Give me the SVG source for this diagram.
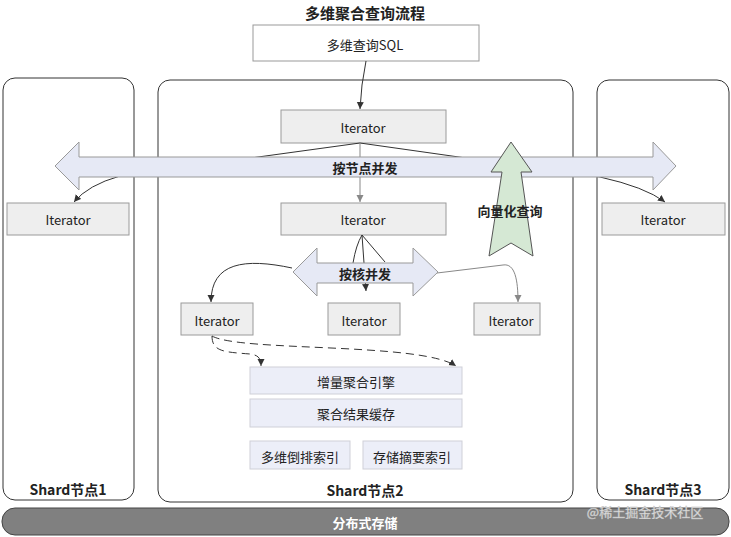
<svg xmlns="http://www.w3.org/2000/svg" width="731" height="537" viewBox="0 0 731 537">
<style>
text{font-family:"Noto Sans CJK SC","Noto Sans",sans-serif;text-anchor:middle;dominant-baseline:central;fill:#222}
.shard{fill:#fff;stroke:#333;stroke-width:1}
.it{fill:#eeeeee;stroke:#9a9a9a;stroke-width:1}
.t13{font-size:13px}
.b{font-weight:bold}
.lav{fill:#eceef8;stroke:#cfd0d8;stroke-width:1}
.c{fill:none;stroke:#333;stroke-width:1}
.cg{fill:none;stroke:#888;stroke-width:1}
.d{fill:none;stroke:#333;stroke-width:1;stroke-dasharray:8 5}
</style>
<defs>
<marker id="ah" markerWidth="8" markerHeight="8" refX="7" refY="4" orient="auto" markerUnits="userSpaceOnUse"><path d="M0,0.5 L7,4 L0,7.5 Z" fill="#333"/></marker>
<marker id="ahg" markerWidth="8" markerHeight="8" refX="7" refY="4" orient="auto" markerUnits="userSpaceOnUse"><path d="M0,0.5 L7,4 L0,7.5 Z" fill="#888"/></marker>
</defs>
<rect width="731" height="537" fill="#fff"/>
<g id="title"><text x="365" y="12" class="b" style="font-size:15px">多维聚合查询流程</text></g>
<g id="shard1"><rect class="shard" x="3" y="78" width="131" height="422" rx="12"/><text x="68" y="489" class="b" style="font-size:14px">Shard节点1</text></g>
<g id="shard2"><rect class="shard" x="158" y="80" width="415" height="422" rx="12"/><text x="365" y="490" class="b" style="font-size:14px">Shard节点2</text></g>
<g id="shard3"><rect class="shard" x="597" y="80" width="132" height="420" rx="12"/><text x="663" y="489" class="b" style="font-size:14px">Shard节点3</text></g>
<g id="storage"><rect x="2" y="508" width="727" height="27" rx="13" fill="#808080" stroke="#444"/><text x="365" y="522" class="b t13" style="fill:#fff">分布式存储</text></g>
<g id="sql"><rect x="253" y="25" width="226" height="36" fill="#fff" stroke="#999"/><text x="365" y="44" class="t13">多维查询SQL</text></g>
<g id="it-top"><rect class="it" x="281" y="110" width="165" height="33"/><text x="363" y="127" class="t13">Iterator</text></g>
<g id="it-s1"><rect class="it" x="7" y="203" width="122" height="32"/><text x="68" y="219" class="t13">Iterator</text></g>
<g id="it-mid"><rect class="it" x="281" y="203" width="165" height="32"/><text x="363" y="219" class="t13">Iterator</text></g>
<g id="it-s3"><rect class="it" x="602" y="203" width="123" height="32"/><text x="663" y="219" class="t13">Iterator</text></g>
<g id="it-l"><rect class="it" x="181" y="303" width="72" height="32"/><text x="217" y="320" class="t13">Iterator</text></g>
<g id="it-m"><rect class="it" x="328" y="303" width="72" height="32"/><text x="364" y="320" class="t13">Iterator</text></g>
<g id="it-r"><rect class="it" x="474" y="303" width="66" height="32"/><text x="511" y="320" class="t13">Iterator</text></g>
<g id="engine"><rect class="lav" x="250" y="367" width="212" height="27"/><text x="356" y="381" class="t13">增量聚合引擎</text></g>
<g id="cache"><rect class="lav" x="250" y="399" width="212" height="28"/><text x="356" y="413" class="t13">聚合结果缓存</text></g>
<g id="idx1"><rect class="lav" x="250" y="441" width="100" height="28"/><text x="300" y="456" class="t13">多维倒排索引</text></g>
<g id="idx2"><rect class="lav" x="363" y="441" width="99" height="28"/><text x="412" y="456" class="t13">存储摘要索引</text></g>
<g id="connectors">
<path class="c" d="M366,61 Q361,85 360,109" marker-end="url(#ah)"/>
<path class="c" d="M360,143 L120,176 Q88,185 74,202" marker-end="url(#ah)"/>
<path class="c" d="M360,143 L600,177 Q645,187 665,202" marker-end="url(#ah)"/>
<path class="cg" d="M360,143 L360,202" marker-end="url(#ahg)"/>
<path class="c" d="M362,235 Q356,245 353,263 M362,235 L385,262"/>
<path class="c" d="M292,268 C245,258 211,262 211,302" marker-end="url(#ah)"/>
<path class="c" d="M362,235 L366,291" marker-end="url(#ah)"/>
<path class="cg" d="M437,273 L503,265 C515,263 518,280 518,302" marker-end="url(#ahg)"/>
<path class="d" d="M212,336 C212,352 225,352 250,354 C258,355 261,358 261,366" marker-end="url(#ah)"/>
<path class="d" d="M212,336 C240,352 420,342 456,366" marker-end="url(#ah)"/>
</g>
<g id="arrow-node">
<path d="M55,166 L79,142 L79,157 L653,157 L653,142 L676,166 L653,190 L653,177 L79,177 L79,190 Z" fill="#e6e9f5" stroke="#999"/>
<text x="365" y="167" class="b t13">按节点并发</text>
</g>
<g id="arrow-core">
<path d="M293,272 L317,248 L317,263 L413,263 L413,248 L438,272 L413,296 L413,283 L317,283 L317,296 Z" fill="#e6e9f5" stroke="#999"/>
<text x="365" y="273" class="b t13">按核并发</text>
</g>
<g id="arrow-vector">
<path d="M511,142 L532,172 L521,172 L533,256 L511,243 L489,256 L502,172 L491,172 Z" fill="#d5e8d4" stroke="#555"/>
<text x="510" y="210" class="b t13">向量化查询</text>
</g>
<g id="watermark"><text x="645" y="511" style="font-size:13px;fill:#e8e8e8;stroke:#bbb;stroke-width:0.4">@稀土掘金技术社区</text></g>
</svg>
